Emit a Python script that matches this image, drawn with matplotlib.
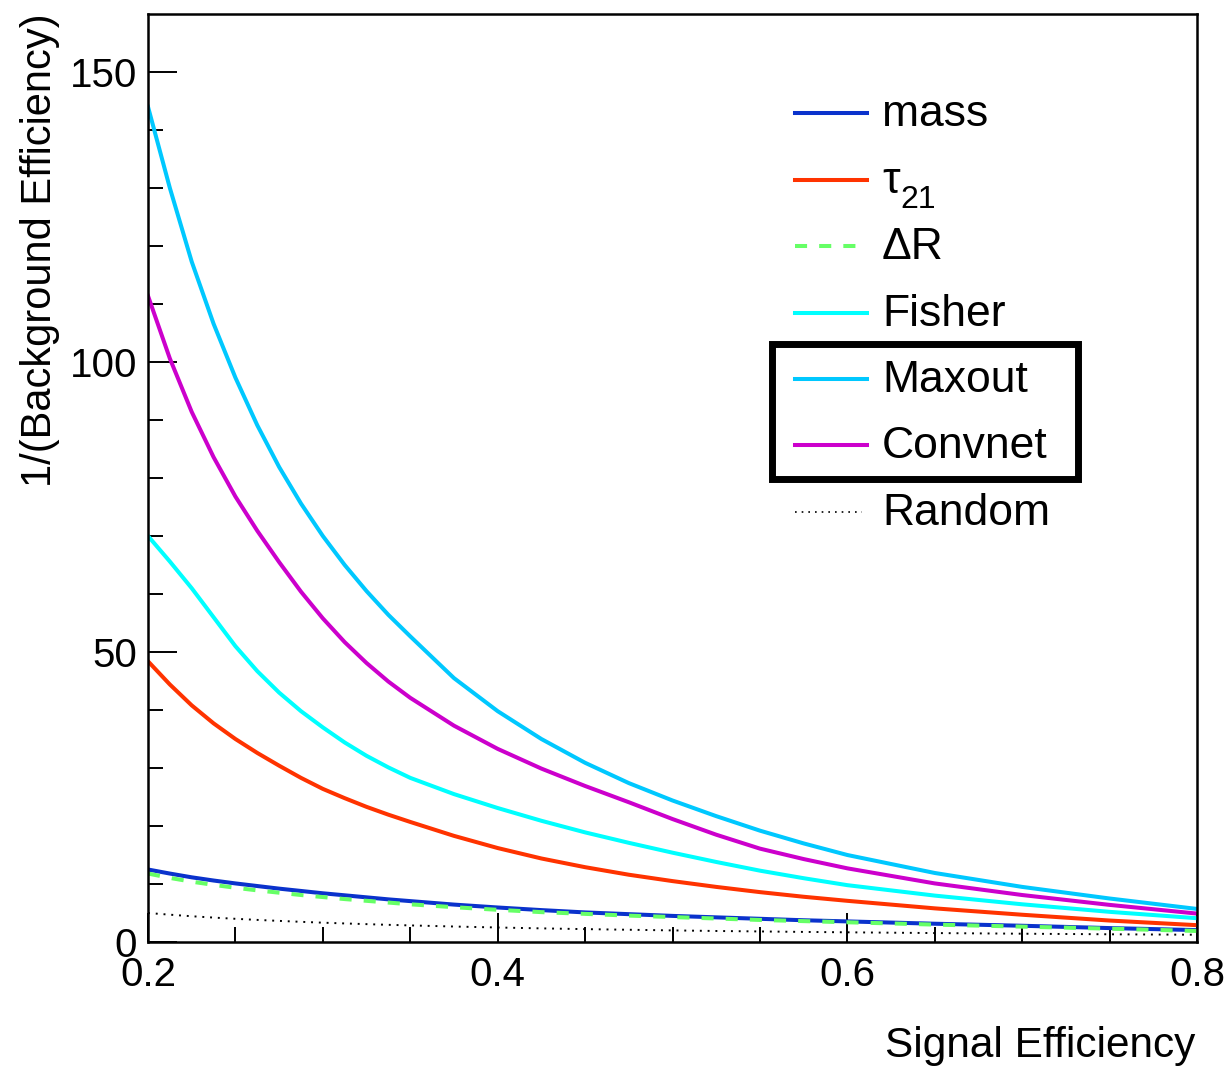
import matplotlib
matplotlib.use("Agg")
import matplotlib.pyplot as plt
from matplotlib.patches import Rectangle

plt.rcParams['font.family'] = ['Liberation Sans', 'DejaVu Sans']

# signal efficiency grid and 1/(background efficiency)
sig_eff = [0.2, 0.2125, 0.225, 0.2375, 0.25, 0.2625, 0.275, 0.2875, 0.3, 0.3125, 0.325,
           0.3375, 0.35, 0.375, 0.4, 0.425, 0.45, 0.475, 0.5, 0.525, 0.55, 0.575, 0.6,
           0.65, 0.7, 0.75, 0.8]
mass = [12.5, 11.8, 11.15, 10.6, 10.1, 9.65, 9.2, 8.8, 8.4, 8.05, 7.7, 7.35, 7.05, 6.45,
        5.95, 5.5, 5.1, 4.8, 4.5, 4.25, 4.0, 3.75, 3.55, 3.15, 2.8, 2.4, 2.05]
tau21 = [48.4, 44.4, 40.8, 37.7, 35.0, 32.6, 30.4, 28.3, 26.4, 24.8, 23.3, 21.95, 20.7,
         18.3, 16.2, 14.4, 12.9, 11.6, 10.5, 9.5, 8.6, 7.8, 7.1, 5.8, 4.7, 3.7, 2.9]
delta_r = [11.8, 11.05, 10.4, 9.85, 9.35, 8.9, 8.5, 8.1, 7.75, 7.4, 7.1, 6.8, 6.5, 6.0,
           5.55, 5.15, 4.85, 4.55, 4.3, 4.05, 3.8, 3.6, 3.4, 3.0, 2.65, 2.3, 1.9]
fisher = [70.0, 65.6, 61.0, 56.0, 51.0, 46.7, 43.0, 39.8, 37.0, 34.4, 32.1, 30.1, 28.3,
          25.5, 23.1, 20.9, 18.9, 17.1, 15.4, 13.8, 12.3, 11.0, 9.8, 8.0, 6.5, 5.2, 4.1]
maxout = [144.0, 130.0, 117.3, 106.6, 97.3, 89.1, 81.9, 75.6, 70.0, 65.0, 60.5, 56.4,
          52.7, 45.5, 39.8, 35.0, 30.9, 27.4, 24.4, 21.7, 19.2, 17.0, 15.0, 11.9, 9.5,
          7.5, 5.7]
convnet = [111.4, 100.6, 91.4, 83.6, 76.8, 70.9, 65.5, 60.4, 55.8, 51.7, 48.1, 44.9, 42.1,
           37.3, 33.3, 29.9, 26.9, 24.1, 21.2, 18.5, 16.1, 14.3, 12.7, 10.1, 8.1, 6.4, 4.9]
random_guess = [5.0, 4.71, 4.44, 4.21, 4.0, 3.81, 3.64, 3.48, 3.33, 3.2, 3.08, 2.96, 2.86,
                2.67, 2.5, 2.35, 2.22, 2.11, 2.0, 1.9, 1.82, 1.74, 1.67, 1.54, 1.43, 1.33,
                1.25]

labels = ['mass', 'τ', 'ΔR', 'Fisher', 'Maxout', 'Convnet', 'Random']
series = [mass, tau21, delta_r, fisher, maxout, convnet, random_guess]
colors = ['#0a32cc', '#ff3300', '#66ff66', '#00ffff', '#00c8ff', '#cc00cc', 'black']
styles = ['-', '-', (0, (3, 3)), '-', '-', '-', (0, (1, 3))]
widths = [2.9, 2.9, 2.9, 2.9, 2.9, 2.9, 1.4]

W, H = 1230, 1072
fig = plt.figure(figsize=(W / 100, H / 100), dpi=100)
ax = fig.add_axes([148 / W, 1 - 942 / H, (1197 - 148) / W, (942 - 14) / H])

for ys, c, ls, lw in zip(series, colors, styles, widths):
    ax.plot(sig_eff, ys, color=c, linestyle=ls, linewidth=lw)

ax.set_xlim(0.2, 0.8)
ax.set_ylim(0, 160)
ax.set_xticks([0.2, 0.4, 0.6, 0.8])
ax.set_xticklabels(['0.2', '0.4', '0.6', '0.8'])
ax.set_xticks([0.25, 0.3, 0.35, 0.45, 0.5, 0.55, 0.65, 0.7, 0.75], minor=True)
ax.set_yticks([0, 50, 100, 150])
ax.set_yticks([10, 20, 30, 40, 60, 70, 80, 90, 110, 120, 130, 140], minor=True)
ax.tick_params(which='both', direction='in', top=False, right=False, width=1.4,
               labelsize=29)
ax.tick_params(which='major', length=21)
ax.tick_params(which='minor', length=11)
ax.tick_params(axis='x', pad=10)
ax.tick_params(axis='y', pad=8)
for sp in ax.spines.values():
    sp.set_linewidth(1.8)

fig.text(1195 / W, 1 - 1046 / H, 'Signal Efficiency', fontsize=30.5, ha='right', va='center')
fig.text(40 / W, 1 - 13 / H, '1/(Background Efficiency)', fontsize=30, rotation=90,
         ha='center', va='top')

# legend, drawn by hand to match the ROOT layout
def fx(px):
    return (px - 148) / 1049

def fy(py):
    return (942 - py) / 928

for i, (lab, c, ls, lw) in enumerate(zip(labels, colors, styles, widths)):
    row = 113.3 + i * 66.4
    x_end = 867 if ls == '-' else 862
    ax.plot([fx(795), fx(x_end)], [fy(row), fy(row)], transform=ax.transAxes,
            color=c, linestyle=ls, linewidth=lw if i < 6 else 1.2, clip_on=False)
    ax.text(fx(882), fy(row + 13), lab, transform=ax.transAxes, fontsize=32,
            ha='left', va='baseline')
    if lab == 'τ':
        ax.text(fx(900), fy(row + 28), '21', transform=ax.transAxes, fontsize=23,
                ha='left', va='baseline')

ax.add_patch(Rectangle((fx(772), fy(479)), fx(1078) - fx(772), fy(344) - fy(479),
                       transform=ax.transAxes, fill=False, edgecolor='black',
                       linewidth=5, clip_on=False))

fig.savefig('out.png', dpi=100)
